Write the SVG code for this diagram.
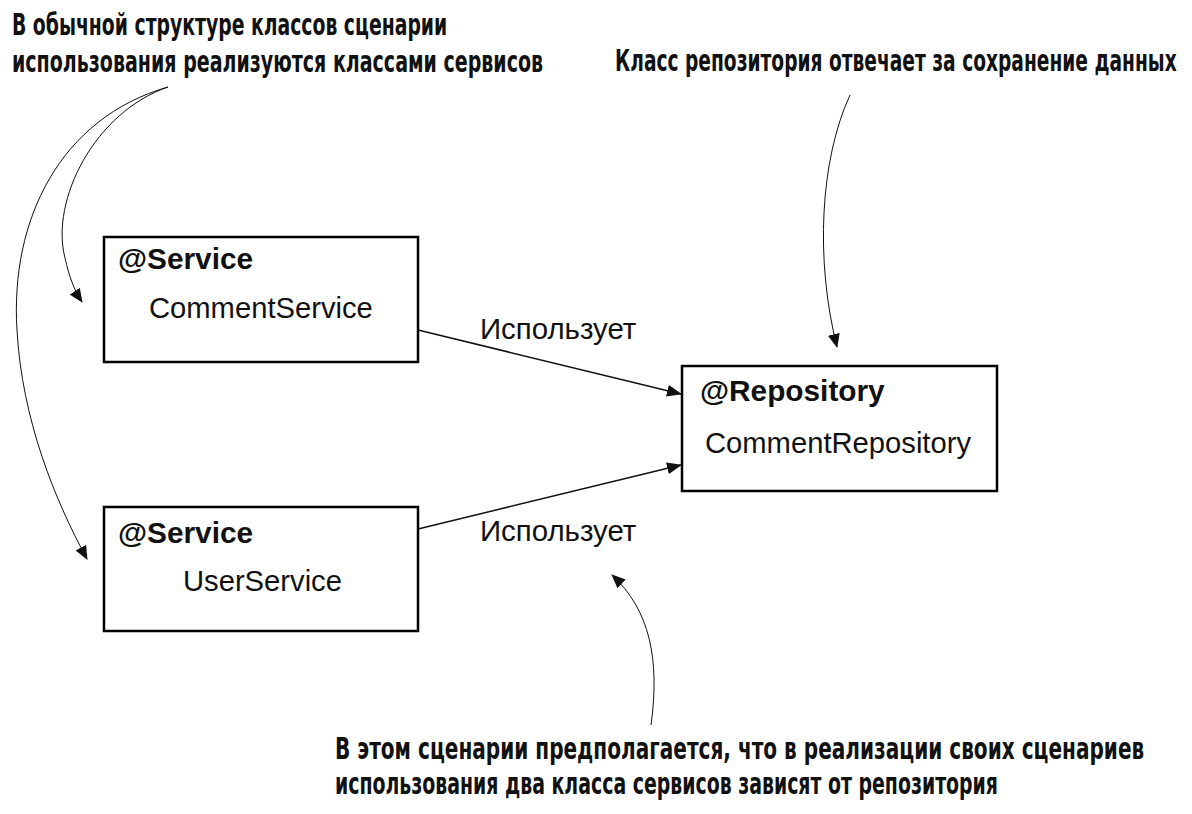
<svg xmlns="http://www.w3.org/2000/svg" width="1192" height="814" viewBox="0 0 1192 814">
<defs>
<style>
.head{font-family:"DejaVu Sans Condensed","Liberation Sans Narrow","Open Sans",sans-serif;font-weight:bold;font-size:31px;fill:#111;font-stretch:condensed}
.ann{font-family:"Liberation Sans",Arial,sans-serif;font-weight:bold;font-size:29.8px;fill:#111}
.name{font-family:"Liberation Sans",Arial,sans-serif;font-size:29.2px;fill:#111}
.lbl{font-family:"Liberation Sans",Arial,sans-serif;font-size:29.4px;fill:#111}
.box{fill:#fff;stroke:#000;stroke-width:2.5}
.con{fill:none;stroke:#111;stroke-width:1.5}
.call{fill:none;stroke:#111;stroke-width:1}
</style>
<marker id="arr" markerUnits="userSpaceOnUse" markerWidth="16" markerHeight="12" refX="14" refY="6" orient="auto">
<path d="M0,0 L15,6 L0,12 Z" fill="#111"/>
</marker>
<marker id="arrs" markerUnits="userSpaceOnUse" markerWidth="14" markerHeight="12" refX="13" refY="6" orient="auto">
<path d="M0,0 L14,6 L0,12 Z" fill="#111"/>
</marker>
</defs>
<rect width="1192" height="814" fill="#fff"/>

<g id="note-services">
<text class="head" transform="translate(12,35) scale(0.68,1)" textLength="640" lengthAdjust="spacingAndGlyphs">В обычной структуре классов сценарии</text>
<text class="head" transform="translate(12,72) scale(0.68,1)" textLength="781" lengthAdjust="spacingAndGlyphs">использования реализуются классами сервисов</text>
</g>
<g id="note-repository">
<text class="head" transform="translate(615,71) scale(0.68,1)" textLength="826" lengthAdjust="spacingAndGlyphs">Класс репозитория отвечает за сохранение данных</text>
</g>
<g id="note-dependency">
<text class="head" transform="translate(335,759) scale(0.68,1)" textLength="1190" lengthAdjust="spacingAndGlyphs">В этом сценарии предполагается, что в реализации своих сценариев</text>
<text class="head" transform="translate(335,794) scale(0.68,1)" textLength="975" lengthAdjust="spacingAndGlyphs">использования два класса сервисов зависят от репозитория</text>
</g>

<g id="comment-service">
<rect class="box" x="104" y="237" width="314" height="125"/>
<text class="ann" x="118" y="269">@Service</text>
<text class="name" x="149" y="318">CommentService</text>
</g>
<g id="user-service">
<rect class="box" x="104" y="507" width="314" height="124"/>
<text class="ann" x="118" y="543">@Service</text>
<text class="name" x="183" y="591">UserService</text>
</g>
<g id="comment-repository">
<rect class="box" x="682" y="366" width="315" height="125"/>
<text class="ann" x="700" y="401">@Repository</text>
<text class="name" x="705" y="453">CommentRepository</text>
</g>

<g id="connectors">
<line class="con" x1="418" y1="330" x2="681" y2="394" marker-end="url(#arr)"/>
<text class="lbl" x="480" y="339">Использует</text>
<line class="con" x1="418" y1="529" x2="681" y2="465" marker-end="url(#arr)"/>
<text class="lbl" x="480" y="541">Использует</text>
<path class="call" d="M168,87 C95,112 50,200 65,258 C69,276 74,290 82,302" marker-end="url(#arrs)"/>
<path class="call" d="M168,87 C60,118 10,220 17,330 C22,420 55,500 87,559" marker-end="url(#arrs)"/>
<path class="call" d="M850,95 C820,160 815,260 837,347" marker-end="url(#arrs)"/>
<path class="call" d="M651,725 C660,660 650,610 612,575" marker-end="url(#arrs)"/>
</g>
</svg>
